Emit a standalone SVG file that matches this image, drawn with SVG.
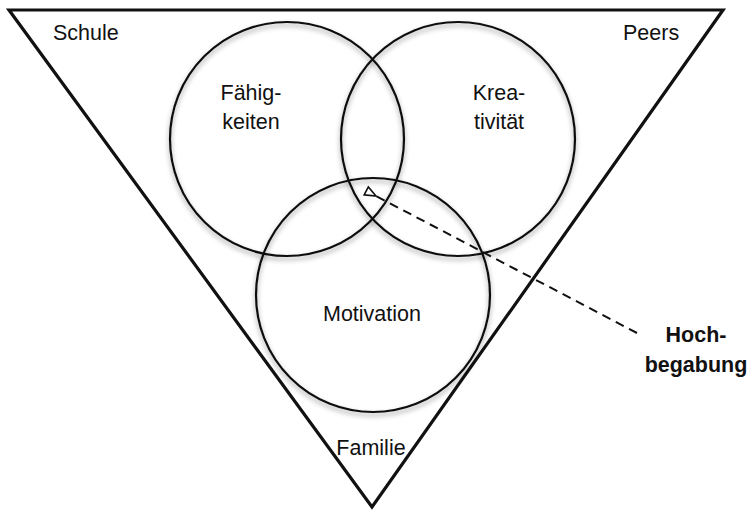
<svg xmlns="http://www.w3.org/2000/svg" width="752" height="511" viewBox="0 0 752 511">
<style>
.lbl{font-family:"Liberation Sans",Arial,sans-serif;font-size:21.5px;fill:#111}
.bold{font-weight:bold}
.circ{fill:none;stroke:#111;stroke-width:2.2}
.tri{fill:none;stroke:#111;stroke-width:3.2;stroke-linejoin:miter}
.conn{fill:none;stroke:#111;stroke-width:2;stroke-dasharray:9 6}
</style>
<defs>
<filter id="sh" x="-10%" y="-10%" width="120%" height="125%">
<feDropShadow dx="0" dy="3" stdDeviation="2.5" flood-color="#000" flood-opacity="0.4"/>
</filter>
<marker id="arr" viewBox="0 0 14 12" refX="1" refY="6" markerWidth="14" markerHeight="12" markerUnits="userSpaceOnUse" orient="auto">
<path d="M12,1.5 L1,6 L12,10.5 Z" fill="#fff" stroke="#111" stroke-width="1.6"/>
</marker>
</defs>
<rect width="752" height="511" fill="#fff"/>
<g id="frame">
<polygon class="tri" points="9,10 723,10 372,507"/>
<text class="lbl" x="53" y="40">Schule</text>
<text class="lbl" x="623" y="40">Peers</text>
<text class="lbl" x="371" y="455" text-anchor="middle">Familie</text>
</g>
<g id="faehigkeiten">
<circle class="circ" filter="url(#sh)" cx="287" cy="139" r="117"/>
<text class="lbl" x="251" y="100" text-anchor="middle">Fähig-</text>
<text class="lbl" x="251" y="129" text-anchor="middle">keiten</text>
</g>
<g id="kreativitaet">
<circle class="circ" filter="url(#sh)" cx="458" cy="139" r="117"/>
<text class="lbl" x="499" y="100" text-anchor="middle">Krea-</text>
<text class="lbl" x="499" y="129" text-anchor="middle">tivität</text>
</g>
<g id="motivation">
<circle class="circ" filter="url(#sh)" cx="373" cy="295" r="117"/>
<text class="lbl" x="372" y="321" text-anchor="middle">Motivation</text>
</g>
<g id="hochbegabung">
<text class="lbl bold" x="696" y="342" text-anchor="middle">Hoch-</text>
<text class="lbl bold" x="696" y="372" text-anchor="middle">begabung</text>
</g>
<g id="connectors">
<line class="conn" x1="637" y1="333" x2="376" y2="196" marker-end="url(#arr)"/>
</g>
</svg>
